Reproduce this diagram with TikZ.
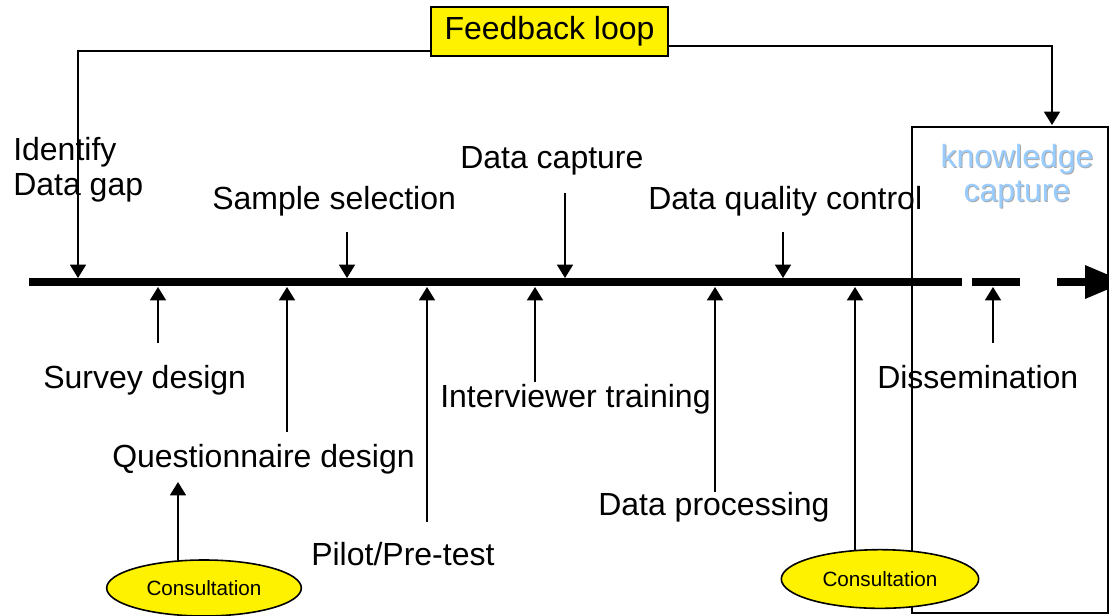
\documentclass[tikz,border=0pt]{standalone}
\usepackage{fontspec}
\setmainfont{Liberation Sans}
\usetikzlibrary{arrows.meta,shapes.geometric}

\definecolor{kblue}{RGB}{153,204,255}
\definecolor{kshadow}{RGB}{170,170,170}

\tikzset{
  lbl/.style={font=\fontsize{24}{26.25}\selectfont, inner sep=0pt, anchor=base west},
  arr/.style={line width=1.2pt, -{Triangle[length=10pt,width=12pt]}},
  timeline/.style={line width=6pt},
  consult/.style={draw, line width=1.2pt, fill=yellow, ellipse, inner sep=0pt,
    font=\fontsize{15.5}{18}\selectfont}
}

\begin{document}
\begin{tikzpicture}[x=0.75pt,y=-0.75pt]
  \clip (0,0) rectangle (1109,615);

  % labels above the line
  \node[lbl, align=left] (gap) at (13,195) {Identify\\Data gap};
  \node[lbl] (smp) at (212,209) {Sample selection};
  \node[lbl] (cap) at (460,168) {Data capture};
  \node[lbl] (dqc) at (648,209) {Data quality control};

  % labels below the line
  \node[lbl] (sd) at (43,388)  {Survey design};
  \node[lbl] (qd) at (112,467) {Questionnaire design};
  \node[lbl] (pt) at (311,565) {Pilot/Pre-test};
  \node[lbl] (it) at (440,407) {Interviewer training};
  \node[lbl] (dp) at (598,515) {Data processing};
  \node[lbl] (ds) at (877,388) {Dissemination};

  % the time line
  \draw[timeline] (29,282) -- (962,282);
  \draw[timeline] (972,282) -- (1020,282);
  \draw[timeline] (1057,282) -- (1087,282);
  \fill (1085,265) -- (1125,282) -- (1085,299) -- cycle;

  % steps coming down onto the line
  \foreach \n/\x/\y in {smp/347/232, cap/565/193, dqc/783/232}{
    \coordinate (\n-top) at (\x,\y);
    \coordinate (\n-hit) at (\x,278);
    \draw[arr] (\n-top) -- (\n-hit);
  }

  % steps coming up onto the line
  \foreach \n/\x/\y in {sd/158/343, qd/287/432, pt/427/522, it/535/382, dp/715/492, ds/993/343}{
    \coordinate (\n-foot) at (\x,\y);
    \coordinate (\n-hit) at (\x,287);
    \draw[arr] (\n-foot) -- (\n-hit);
  }

  % knowledge capture
  \draw[line width=1.2pt] (912,127) rectangle (1108,613);
  \node[font=\fontsize{24}{25.5}\selectfont, text=kshadow, align=center, inner sep=0pt, anchor=base]
    (kc-shadow) at (1018,202) {knowledge\\capture};
  \node[font=\fontsize{24}{25.5}\selectfont, text=kblue, align=center, inner sep=0pt, anchor=base]
    (kc) at (1017,201) {knowledge\\capture};

  % feedback loop
  \node[draw, line width=1.2pt, fill=yellow, minimum width=178pt, minimum height=37pt,
    inner sep=0pt, font=\fontsize{24}{28}\selectfont] (fb) at (549.5,31.5) {Feedback loop};
  \coordinate (fb-in) at (78,278);
  \coordinate (kc-in) at (1052,125);
  \draw[arr] (fb.west |- 0,51) -| (fb-in);
  \draw[arr] (fb.east |- 0,46) -| (kc-in);

  % consultation
  \node[consult, minimum width=146pt, minimum height=42pt] (con1) at (204,588) {Consultation};
  \node[consult, minimum width=148pt, minimum height=44pt] (con2) at (880,579) {Consultation};
  \coordinate (qd-in) at (178,482);
  \coordinate (con2-hit) at (855,287);
  \draw[arr] (qd-in |- con1.north) ++(0,1) -- (qd-in);
  \draw[arr] (con2-hit |- con2.north) ++(0,1) -- (con2-hit);
\end{tikzpicture}
\end{document}
